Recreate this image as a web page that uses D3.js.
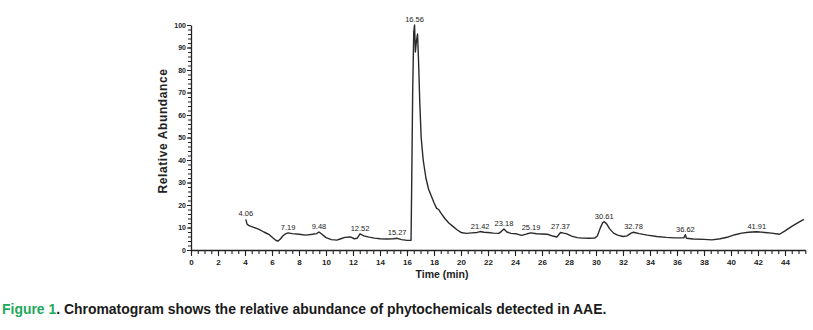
<!DOCTYPE html>
<html>
<head>
<meta charset="utf-8">
<script src="https://cdn.jsdelivr.net/npm/d3@7"></script>
<style>
  html, body { margin: 0; padding: 0; background: #fff; }
  svg { display: block; }
  .tick text { font-family: "Liberation Sans", Arial, sans-serif; }
</style>
</head>
<body>
<svg id="chart" width="813" height="330"></svg>
<script>
// Retention time (min) of the chromatogram trace
const times = [
  4.06, 4.15, 4.3, 4.6, 5.0, 5.4, 5.8, 6.1, 6.3, 6.45, 6.6, 6.8, 7.0, 7.19, 7.5, 8.0, 8.5, 9.0, 9.3, 9.48,
  9.7, 10.0, 10.4, 10.8, 11.1, 11.4, 11.8, 12.1, 12.3, 12.52, 12.8, 13.2, 13.6, 14.0, 14.5, 15.0, 15.27, 15.6,
  16.0, 16.3, 16.35, 16.42, 16.5, 16.56, 16.62, 16.7, 16.78, 16.85, 16.95, 17.05, 17.2, 17.4, 17.6, 17.8,
  18.0, 18.2, 18.35, 18.5, 18.8, 19.1, 19.4, 19.7, 20.0, 20.4, 20.8, 21.2, 21.42, 21.7, 22.0, 22.4, 22.8,
  23.0, 23.18, 23.4, 23.7, 24.1, 24.5, 24.9, 25.19, 25.6, 26.0, 26.4, 26.8, 27.1, 27.3, 27.37, 27.6, 27.8,
  28.2, 28.6, 29.0, 29.5, 29.9, 30.1, 30.3, 30.5, 30.61, 30.8, 31.0, 31.3, 31.6, 32.0, 32.3, 32.6, 32.78,
  33.2, 33.8, 34.5, 35.2, 35.8, 36.5, 36.62, 36.7, 37.2, 38.0, 38.6, 39.2, 39.8, 40.3, 40.8, 41.3, 41.91,
  42.5, 43.0, 43.6, 44.0, 44.5, 45.0, 45.4
];
// Relative abundance (%) at each retention time
const abundance = [
  13.6, 11.5, 10.8, 10.2, 9.3, 8.0, 6.8, 5.2, 4.2, 4.0, 4.8, 6.2, 7.2, 7.6, 7.3, 7.0, 6.6, 7.0, 7.3, 8.0,
  7.0, 5.5, 4.6, 4.4, 5.0, 5.6, 5.8, 5.0, 5.2, 7.2, 6.3, 5.7, 5.3, 5.0, 4.9, 5.0, 5.2, 4.6,
  4.3, 4.3, 30, 70, 97, 100, 88, 93, 96, 85, 65, 50, 40, 32, 27, 24,
  21, 18.5, 18, 16.5, 14, 12, 10.5, 9, 7.8, 7.4, 7.6, 7.8, 8.2, 7.9, 7.8, 7.5, 7.4,
  8.3, 9.3, 8.0, 7.4, 7.2, 6.5, 7.2, 7.6, 7.2, 7.1, 7.0, 6.2, 5.8, 7.2, 7.8, 7.5, 7.3,
  6.2, 5.5, 5.3, 5.2, 5.3, 6.2, 9.5, 12.2, 12.6, 11.5, 9.5, 7.5, 6.6, 6.0, 6.3, 7.5, 7.9,
  7.3, 6.6, 6.0, 5.6, 5.4, 5.4, 6.8, 5.2, 4.9, 4.7, 4.5, 5.0, 5.8, 6.8, 7.5, 7.9, 8.1,
  7.8, 7.5, 7.0, 8.5, 10.5, 12.3, 13.6
];
// Annotated peaks (retention times)
const peakLabels = ["4.06", "7.19", "9.48", "12.52", "15.27", "16.56", "21.42", "23.18", "25.19",
                    "27.37", "30.61", "32.78", "36.62", "41.91"];

const xMajorTicks = d3.range(0, 45, 2);
const xMinorTicks = d3.range(0, 45.6, 0.5);
const yMajorTicks = d3.range(0, 101, 10);
const yMinorTicks = d3.range(0, 101, 2);

const svg = d3.select("#chart");
const x = d3.scaleLinear().domain([0, 45.5]).range([191, 805.25]);
const y = d3.scaleLinear().domain([0, 100]).range([250, 25]);
const trace = times.map((t, i) => ({ t, v: abundance[i] }));

// axes: minor ticks without labels, then labelled major ticks
svg.append("g").attr("transform", `translate(0,${y(0)})`)
  .call(d3.axisBottom(x).tickValues(xMinorTicks).tickSize(4).tickFormat(""))
  .call(g => g.select(".domain").remove())
  .selectAll("line").attr("stroke", "#222").attr("stroke-width", 1.1);
svg.append("g").attr("transform", `translate(0,${y(0)})`)
  .call(d3.axisBottom(x).tickValues(xMajorTicks).tickSize(6).tickPadding(3).tickSizeOuter(0))
  .call(g => g.select(".domain").attr("stroke", "#222").attr("stroke-width", 1.3))
  .call(g => g.selectAll("line").attr("stroke", "#222").attr("stroke-width", 1.1))
  .call(g => g.selectAll("text").attr("font-size", 8).attr("font-weight", "bold").attr("fill", "#222"));

svg.append("g").attr("transform", `translate(${x(0)},0)`)
  .call(d3.axisLeft(y).tickValues(yMinorTicks).tickSize(3).tickFormat(""))
  .call(g => g.select(".domain").remove())
  .selectAll("line").attr("stroke", "#222").attr("stroke-width", 1);
svg.append("g").attr("transform", `translate(${x(0)},0)`)
  .call(d3.axisLeft(y).tickValues(yMajorTicks).tickSize(4).tickPadding(1).tickSizeOuter(0))
  .call(g => g.select(".domain").attr("stroke", "#222").attr("stroke-width", 1.3))
  .call(g => g.selectAll("line").attr("stroke", "#222"))
  .call(g => g.selectAll("text").attr("font-size", 7).attr("font-weight", "bold").attr("fill", "#222"));

// chromatogram trace
svg.append("path").datum(trace)
  .attr("fill", "none").attr("stroke", "#2a2a2a").attr("stroke-width", 1.4)
  .attr("stroke-linejoin", "round")
  .attr("d", d3.line().x(d => x(d.t)).y(d => y(d.v)));

// peak annotations, each placed just above the trace at its retention time
svg.append("g").selectAll("text").data(peakLabels).join("text")
  .attr("x", d => x(+d))
  .attr("y", d => {
    const near = trace.filter(p => Math.abs(p.t - +d) < 0.2);
    return y(d3.max(near, p => p.v)) - 3;
  })
  .attr("text-anchor", "middle")
  .attr("font-family", "'Liberation Sans', Arial, sans-serif")
  .attr("font-size", 7.5).attr("fill", "#222")
  .text(d => d);

// axis titles
svg.append("text").attr("x", 442).attr("y", 278).attr("text-anchor", "middle")
  .attr("font-family", "'Liberation Sans', Arial, sans-serif")
  .attr("font-size", 10.5).attr("font-weight", "bold").attr("fill", "#222")
  .text("Time (min)");
svg.append("text").attr("transform", "translate(167,131) rotate(-90)").attr("text-anchor", "middle")
  .attr("font-family", "'Liberation Sans', Arial, sans-serif")
  .attr("font-size", 12).attr("font-weight", "bold").attr("letter-spacing", 0.6).attr("fill", "#222")
  .text("Relative Abundance");

// caption
const cap = svg.append("text").attr("x", 2).attr("y", 314)
  .attr("font-family", "'Liberation Sans', Arial, sans-serif")
  .attr("font-size", 13.95).attr("font-weight", "bold").attr("fill", "#1a1a1a");
cap.append("tspan").attr("fill", "#1fa85b").text("Figure 1");
cap.append("tspan").text(". Chromatogram shows the relative abundance of phytochemicals detected in AAE.");
</script>
</body>
</html>
